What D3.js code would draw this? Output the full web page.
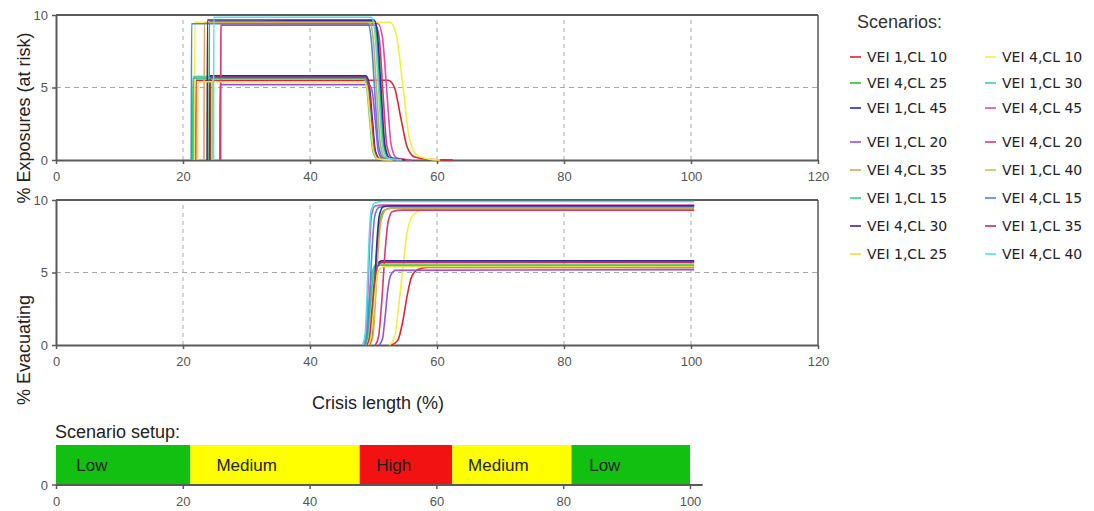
<!DOCTYPE html>
<html><head><meta charset="utf-8">
<script src="https://cdn.jsdelivr.net/npm/d3@7"></script>
<style>
body{margin:0;background:#fff;}
svg{display:block;}
</style></head>
<body>
<svg id="chart" width="1094" height="511"></svg>
<script>
// ---------- data ----------
const scenarioNames = ["VEI 1,CL 10","VEI 4,CL 10","VEI 4,CL 25","VEI 1,CL 30","VEI 1,CL 45","VEI 4,CL 45","VEI 1,CL 20","VEI 4,CL 20","VEI 4,CL 35","VEI 1,CL 40","VEI 1,CL 15","VEI 4,CL 15","VEI 4,CL 30","VEI 1,CL 35","VEI 1,CL 25","VEI 4,CL 40"];

// % exposures (at risk) vs crisis length (%)
const exposurePoints = [
 [[22,0],[22.05,5.5],[52.3,5.5],[53.3,5.0],[54.3,2.9],[55.3,0.9],[56.5,0.2],[58.5,0.05],[62.5,0]],
 [[21.8,0],[21.85,9.5],[52.6,9.5],[53.6,8.6],[54.6,5.2],[55.6,1.6],[56.8,0.35],[58.5,0.08],[60.5,0]],
 [[24.1,0],[24.15,9.55],[49.8,9.55],[50.4,8.8],[51.0,4.8],[51.6,1.0],[52.4,0.15],[55,0]],
 [[21.6,0],[21.65,5.75],[48.6,5.75],[49.1,5.2],[49.6,2.9],[50.1,0.6],[50.8,0.08],[53,0]],
 [[24.2,0],[24.25,5.8],[48.8,5.8],[49.3,5.3],[49.8,2.9],[50.3,0.6],[51,0.08],[53,0]],
 [[25.9,0],[25.95,9.4],[50.7,9.4],[51.4,8.5],[52.1,4.7],[52.8,1.0],[53.6,0.15],[56,0]],
 [[25.8,0],[25.85,5.2],[49.3,5.2],[49.8,4.7],[50.3,2.6],[50.8,0.5],[51.5,0.08],[54,0]],
 [[25.9,0],[25.95,9.3],[50.3,9.3],[50.9,8.4],[51.5,4.6],[52.1,1.0],[52.9,0.15],[55.5,0]],
 [[23.3,0],[23.35,9.45],[49.4,9.45],[49.9,8.6],[50.5,4.7],[51.1,1.0],[51.8,0.15],[54,0]],
 [[24.6,0],[24.65,5.6],[48.5,5.6],[49.0,5.1],[49.5,2.8],[50.0,0.6],[50.7,0.08],[53,0]],
 [[21.5,0],[21.55,5.65],[48.4,5.65],[48.9,5.1],[49.4,2.8],[49.9,0.6],[50.6,0.08],[53,0]],
 [[21.3,0],[21.35,9.4],[49.1,9.4],[49.6,8.5],[50.2,4.7],[50.8,1.0],[51.5,0.15],[54,0]],
 [[23.8,0],[23.85,9.65],[50.1,9.65],[50.6,8.8],[51.2,4.8],[51.8,1.0],[52.5,0.15],[55,0]],
 [[24.3,0],[24.35,5.7],[48.7,5.7],[49.2,5.2],[49.7,2.9],[50.2,0.6],[50.9,0.08],[53,0]],
 [[22.3,0],[22.35,5.4],[48.5,5.4],[49.0,4.9],[49.5,2.7],[50.0,0.6],[50.7,0.08],[53,0]],
 [[24.8,0],[24.85,9.85],[49.7,9.85],[50.2,8.9],[50.8,4.9],[51.4,1.0],[52.1,0.15],[54.5,0]]
];

// % evacuating vs crisis length (%)
const evacuationPoints = [
 [[52.8,0],[53.8,0.3],[54.6,1.6],[55.3,3.4],[56.0,4.7],[57,5.2],[58.5,5.35],[100.5,5.35]],
 [[52.5,0],[53.3,0.5],[54.0,2.8],[54.6,5.2],[55.3,7.8],[56.3,9.0],[58,9.35],[100.5,9.35]],
 [[49.0,0],[49.6,0.6],[50.1,3.2],[50.5,6.2],[51.0,8.5],[51.7,9.3],[53,9.45],[100.5,9.45]],
 [[48.3,0],[48.8,0.5],[49.2,2.3],[49.6,4.4],[50.1,5.4],[51,5.7],[100.5,5.75]],
 [[48.9,0],[49.3,0.5],[49.7,2.5],[50.1,4.6],[50.5,5.5],[51.3,5.8],[100.5,5.8]],
 [[48.4,0],[48.8,0.8],[49.1,3.5],[49.4,7.0],[49.7,9.0],[50.3,9.6],[51.5,9.65],[100.5,9.65]],
 [[50.9,0],[51.4,0.4],[51.8,1.8],[52.2,3.6],[52.7,4.8],[53.5,5.15],[100.5,5.2]],
 [[50.3,0],[50.8,0.6],[51.3,3.0],[51.8,6.3],[52.3,8.5],[53.0,9.2],[54.5,9.3],[100.5,9.3]],
 [[49.4,0],[49.9,0.6],[50.3,3.0],[50.7,6.3],[51.2,8.6],[52.0,9.35],[53.5,9.45],[100.5,9.45]],
 [[48.8,0],[49.2,0.5],[49.6,2.4],[50.0,4.4],[50.4,5.3],[51.2,5.55],[100.5,5.55]],
 [[48.6,0],[49.0,0.5],[49.4,2.3],[49.8,4.3],[50.2,5.3],[51.0,5.5],[100.5,5.5]],
 [[48.6,0],[49.0,0.7],[49.4,3.4],[49.8,6.8],[50.2,8.9],[50.9,9.5],[52,9.55],[100.5,9.55]],
 [[49.3,0],[49.7,0.7],[50.1,3.4],[50.5,6.8],[50.9,8.9],[51.6,9.55],[53,9.6],[100.5,9.6]],
 [[49.0,0],[49.4,0.5],[49.8,2.5],[50.2,4.5],[50.6,5.4],[51.4,5.7],[100.5,5.7]],
 [[49.2,0],[49.6,0.5],[50.0,2.3],[50.4,4.2],[50.8,5.1],[51.6,5.4],[100.5,5.4]],
 [[48.3,0],[48.7,0.8],[49.0,3.6],[49.3,7.2],[49.6,9.2],[50.2,9.8],[51.5,9.9],[100.5,9.9]]
];

const xTicks = [0,20,40,60,80,100,120];
const yTicks = [0,5,10];
const setupTicks = [0,20,40,60,80,100];
const setupLevels = ["Low","Medium","High","Medium","Low"];
const setupBounds = [0,21.2,47.9,62.5,81.3,100];
const setupLabelAt = [3.2,25.3,50.5,65.0,84.1];

// ---------- styles ----------
const seriesColors = ["#e2242c","#f2f044","#2cc02c","#4cc2b8","#2a2aaa","#e24aac","#9454da","#da3a6a","#e2a44c","#aad24c","#2cd28c","#4a8ad2","#3a2a9a","#ca2a5a","#e8e244","#4ae2ea"];
const levelColors = {Low:"#12c012", Medium:"#ffff00", High:"#f21212"};
const axisColor = "#5a5a5a";
const tickFont = "'Liberation Sans', Arial, sans-serif";

const svg = d3.select("#chart");
const x = d3.scaleLinear().domain([0,120]).range([56,818]);
const yTop = d3.scaleLinear().domain([0,10]).range([160,15]);
const yBot = d3.scaleLinear().domain([0,10]).range([345,200]);

function panel(y, points, xLabelY){
  const g = svg.append("g");
  // grid
  g.selectAll("line.vg").data(xTicks.filter(t=>t>0 && t<120)).join("line")
    .attr("x1",d=>x(d)).attr("x2",d=>x(d)).attr("y1",y(0)).attr("y2",y(10))
    .attr("stroke","#a8a8a8").attr("stroke-width",1).attr("stroke-dasharray","4,4");
  g.selectAll("line.hg").data([5]).join("line")
    .attr("x1",x(0)).attr("x2",x(120)).attr("y1",d=>y(d)).attr("y2",d=>y(d))
    .attr("stroke","#a8a8a8").attr("stroke-width",1).attr("stroke-dasharray","5,4");
  // frame top & right
  g.append("line").attr("x1",x(0)).attr("x2",x(120)).attr("y1",y(10)).attr("y2",y(10))
    .attr("stroke",axisColor).attr("stroke-width",2);
  g.append("line").attr("x1",x(120)).attr("x2",x(120)).attr("y1",y(10)).attr("y2",y(0))
    .attr("stroke",axisColor).attr("stroke-width",1.5);
  // axes
  const xa = g.append("g").attr("transform",`translate(0,${y(0)})`)
    .call(d3.axisBottom(x).tickValues(xTicks).tickSize(4).tickPadding(8).tickSizeOuter(0));
  const ya = g.append("g").attr("transform",`translate(${x(0)},0)`)
    .call(d3.axisLeft(y).tickValues(yTicks).tickSize(4).tickPadding(4).tickSizeOuter(0));
  [xa,ya].forEach(a=>{
    a.select(".domain").attr("stroke",axisColor).attr("stroke-width",2);
    a.selectAll(".tick line").attr("stroke",axisColor).attr("stroke-width",1.5);
    a.selectAll(".tick text").attr("fill","#555").style("font-family",tickFont).style("font-size","13px");
  });
  // series
  const line = d3.line().x(d=>x(d[0])).y(d=>y(d[1])).curve(d3.curveMonotoneX);
  g.selectAll("path.s").data(points).join("path")
    .attr("class","s").attr("d",line).attr("fill","none")
    .attr("stroke",(d,i)=>seriesColors[i]).attr("stroke-width",1.6);
}
panel(yTop, exposurePoints);
panel(yBot, evacuationPoints);

// axis titles
const titleFont = "'Liberation Sans', Arial, sans-serif";
svg.append("text").attr("transform","translate(30,118) rotate(-90)")
  .attr("text-anchor","middle").style("font-family",titleFont).style("font-size","18px").attr("fill","#222")
  .text("% Exposures (at risk)");
svg.append("text").attr("transform","translate(30,350) rotate(-90)")
  .attr("text-anchor","middle").style("font-family",titleFont).style("font-size","18px").attr("fill","#222")
  .text("% Evacuating");
svg.append("text").attr("x",378).attr("y",409).attr("text-anchor","middle")
  .style("font-family",titleFont).style("font-size","18px").attr("fill","#222").text("Crisis length (%)");

// legend
const lg = svg.append("g");
lg.append("text").attr("x",857).attr("y",28).style("font-family",titleFont).style("font-size","18px")
  .attr("fill","#333").text("Scenarios:");
const rowY = [57,83,108,142,170,198,226,254];
scenarioNames.forEach((n,i)=>{
  const col = i%2, row = Math.floor(i/2);
  const lx = col===0 ? 850 : 985;
  lg.append("line").attr("x1",lx).attr("x2",lx+11).attr("y1",rowY[row]).attr("y2",rowY[row])
    .attr("stroke",seriesColors[i]).attr("stroke-width",1.6);
  lg.append("text").attr("x",lx+17).attr("y",rowY[row]+5)
    .style("font-family","'DejaVu Sans', Verdana, sans-serif").style("font-size","14px").attr("fill","#222").text(n);
});

// scenario setup
const xs = d3.scaleLinear().domain([0,100]).range([56,690]);
svg.append("text").attr("x",55).attr("y",438).style("font-family",titleFont).style("font-size","18px")
  .attr("fill","#222").text("Scenario setup:");
const segs = setupLevels.map((l,i)=>({level:l, a:setupBounds[i], b:setupBounds[i+1], at:setupLabelAt[i]}));
svg.selectAll("rect.seg").data(segs).join("rect")
  .attr("x",d=>xs(d.a)).attr("width",d=>xs(d.b)-xs(d.a)).attr("y",445).attr("height",40)
  .attr("fill",d=>levelColors[d.level]);
svg.selectAll("text.seg").data(segs).join("text")
  .attr("x",d=>xs(d.at)).attr("y",471).style("font-family",titleFont).style("font-size","17px")
  .attr("fill","#222").text(d=>d.level);
const sa = svg.append("g").attr("transform","translate(0,485)")
  .call(d3.axisBottom(xs).tickValues(setupTicks).tickSize(4).tickPadding(8).tickSizeOuter(0));
sa.select(".domain").attr("d",`M${xs(0)},0H${xs(102)}`).attr("stroke",axisColor).attr("stroke-width",2);
sa.selectAll(".tick line").attr("stroke",axisColor).attr("stroke-width",1.5);
sa.selectAll(".tick text").attr("fill","#555").style("font-family",tickFont).style("font-size","13px");
svg.append("line").attr("x1",xs(0)-4).attr("x2",xs(0)).attr("y1",485).attr("y2",485)
  .attr("stroke",axisColor).attr("stroke-width",1.5);
svg.append("text").attr("x",xs(0)-8).attr("y",490).attr("text-anchor","end")
  .style("font-family",tickFont).style("font-size","13px").attr("fill","#555").text("0");
</script>
</body></html>
